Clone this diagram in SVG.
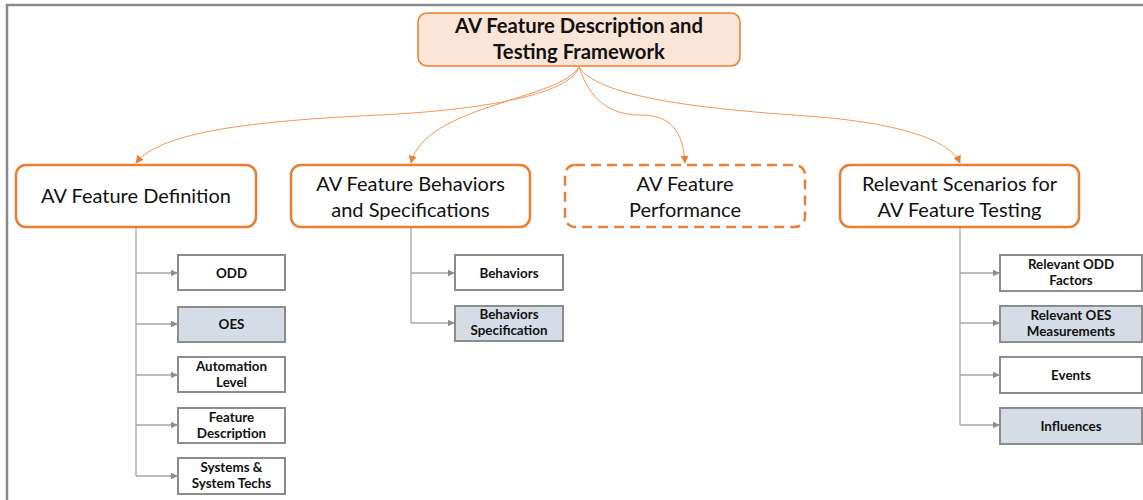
<svg xmlns="http://www.w3.org/2000/svg" width="1143" height="500" viewBox="0 0 1143 500">
  <style>
    .frame { fill: none; stroke: #8a8a8a; stroke-width: 2.5; }
    .root rect { fill: #fbe5d6; stroke: #ed7d31; stroke-width: 1.5; }
    .root text { font-family: Lato, "Open Sans", sans-serif; font-weight: bold; font-size: 20.3px; fill: #111; text-anchor: middle; }
    .main rect { fill: #fff; stroke: #ed7d31; stroke-width: 2.5; }
    .main rect.dash { stroke-dasharray: 10 6; }
    .main text { font-family: Lato, "Open Sans", sans-serif; font-size: 20px; fill: #111; text-anchor: middle; }
    .leaf rect { fill: #fff; stroke: #8c8c8c; stroke-width: 2; }
    .leaf rect.shade { fill: #d6dce5; }
    .leaf text { font-family: Lato, "Open Sans", sans-serif; font-weight: bold; font-size: 13.4px; fill: #111; text-anchor: middle; }
    .arc { fill: none; stroke: #f0975a; stroke-width: 1; marker-end: url(#arrowOrange); }
    .tree { fill: none; stroke: #a6a6a6; stroke-width: 1.3; }
    .branch { fill: none; stroke: #a6a6a6; stroke-width: 1.3; marker-end: url(#arrowGray); }
  </style>
  <defs>
    <marker id="arrowOrange" viewBox="0 0 10 10" refX="9" refY="5" markerWidth="8" markerHeight="8" markerUnits="userSpaceOnUse" orient="auto">
      <path d="M0,0 L10,5 L0,10 z" fill="#ed7d31"/>
    </marker>
    <marker id="arrowGray" viewBox="0 0 10 10" refX="9" refY="5" markerWidth="7" markerHeight="7" markerUnits="userSpaceOnUse" orient="auto">
      <path d="M0,0 L10,5 L0,10 z" fill="#8c8c8c"/>
    </marker>
  </defs>

  <!-- outer frame -->
  <rect class="frame" x="7" y="5" width="1200" height="600"/>

  <!-- connectors -->
  <g id="connectors">
    <path class="arc" d="M579,67 C570,95 480,110 380,115 C250,121 160,132 136,163"/>
    <path class="arc" d="M579,67 C560,100 425,105 411,163"/>
    <path class="arc" d="M579,67 C590,100 610,115 640,115 C670,115 683,130 685,163"/>
    <path class="arc" d="M579,67 C600,100 720,110 820,117 C900,124 950,140 960,163"/>

    <path class="tree" d="M136,228 V476"/>
    <path class="branch" d="M136,273 H177"/>
    <path class="branch" d="M136,324 H177"/>
    <path class="branch" d="M136,375 H177"/>
    <path class="branch" d="M136,425 H177"/>
    <path class="branch" d="M136,476 H177"/>

    <path class="tree" d="M411,228 V323"/>
    <path class="branch" d="M411,273 H454"/>
    <path class="branch" d="M411,323 H454"/>

    <path class="tree" d="M960,228 V425"/>
    <path class="branch" d="M960,273 H999"/>
    <path class="branch" d="M960,323 H999"/>
    <path class="branch" d="M960,375 H999"/>
    <path class="branch" d="M960,425 H999"/>
  </g>

  <!-- root -->
  <g id="root" class="root">
    <rect x="418" y="13" width="322" height="53" rx="9"/>
    <text x="579" y="33">AV Feature Description and</text>
    <text x="579" y="59">Testing Framework</text>
  </g>

  <!-- main branches -->
  <g id="definition" class="main">
    <rect x="16" y="165" width="240" height="62" rx="10"/>
    <text x="136" y="203">AV Feature Definition</text>
  </g>
  <g id="behaviors" class="main">
    <rect x="291" y="165" width="239" height="62" rx="10"/>
    <text x="410.5" y="190.5">AV Feature Behaviors</text>
    <text x="410.5" y="216.5">and Specifications</text>
  </g>
  <g id="performance" class="main">
    <rect class="dash" x="565" y="165" width="240" height="62" rx="10"/>
    <text x="685" y="190.5">AV Feature</text>
    <text x="685" y="216.5">Performance</text>
  </g>
  <g id="scenarios" class="main">
    <rect x="840" y="165" width="239" height="62" rx="10"/>
    <text x="959.5" y="190.5">Relevant Scenarios for</text>
    <text x="959.5" y="216.5">AV Feature Testing</text>
  </g>

  <!-- definition leaves -->
  <g id="odd" class="leaf">
    <rect x="178" y="255" width="107" height="35"/>
    <text x="231.5" y="277.5">ODD</text>
  </g>
  <g id="oes" class="leaf">
    <rect class="shade" x="178" y="307" width="107" height="35"/>
    <text x="231.5" y="329">OES</text>
  </g>
  <g id="automation-level" class="leaf">
    <rect x="178" y="357" width="107" height="35"/>
    <text x="231.5" y="370.5">Automation</text>
    <text x="231.5" y="386.5">Level</text>
  </g>
  <g id="feature-description" class="leaf">
    <rect x="178" y="408" width="107" height="35"/>
    <text x="231.5" y="421.5">Feature</text>
    <text x="231.5" y="437.5">Description</text>
  </g>
  <g id="systems" class="leaf">
    <rect x="178" y="458" width="107" height="36"/>
    <text x="231.5" y="472">Systems &amp;</text>
    <text x="231.5" y="488">System Techs</text>
  </g>

  <!-- behavior leaves -->
  <g id="behaviors-leaf" class="leaf">
    <rect x="455" y="255" width="108" height="35"/>
    <text x="509" y="277.5">Behaviors</text>
  </g>
  <g id="behaviors-spec" class="leaf">
    <rect class="shade" x="455" y="306" width="108" height="35"/>
    <text x="509" y="319">Behaviors</text>
    <text x="509" y="335">Specification</text>
  </g>

  <!-- scenario leaves -->
  <g id="odd-factors" class="leaf">
    <rect x="1000" y="255" width="142" height="36"/>
    <text x="1071" y="269">Relevant ODD</text>
    <text x="1071" y="285">Factors</text>
  </g>
  <g id="oes-measurements" class="leaf">
    <rect class="shade" x="1000" y="306" width="142" height="36"/>
    <text x="1071" y="319.5">Relevant OES</text>
    <text x="1071" y="335.5">Measurements</text>
  </g>
  <g id="events" class="leaf">
    <rect x="1000" y="357" width="142" height="36"/>
    <text x="1071" y="379.5">Events</text>
  </g>
  <g id="influences" class="leaf">
    <rect class="shade" x="1000" y="408" width="142" height="36"/>
    <text x="1071" y="430.5">Influences</text>
  </g>
</svg>
